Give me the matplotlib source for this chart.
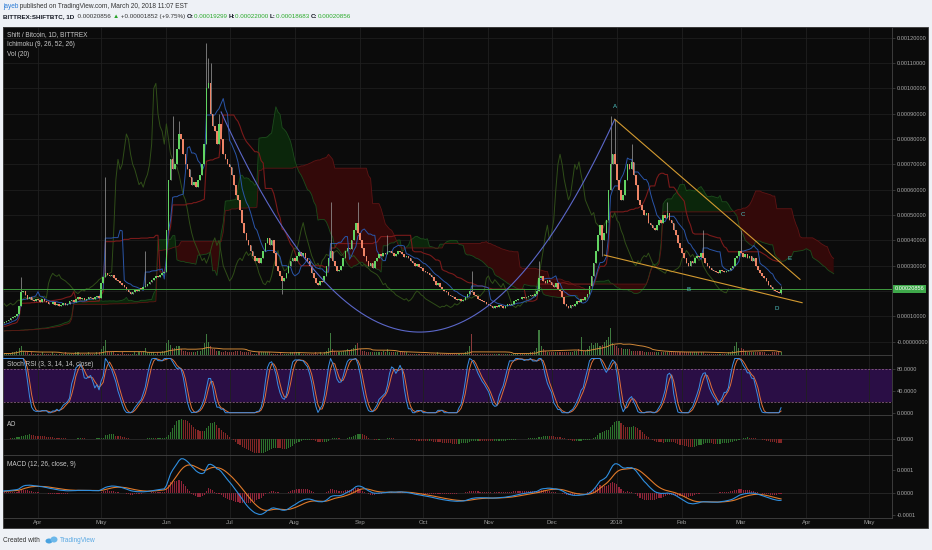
import numpy as np
import pandas as pd
import matplotlib
matplotlib.use("Agg")
import matplotlib.pyplot as plt
import matplotlib.dates as mdates
import matplotlib.transforms as mtransforms
from matplotlib.patches import Rectangle, Ellipse

plt.rcParams['font.family'] = ['Liberation Sans', 'DejaVu Sans']

# daily closes in 1e-6 BTC
pre_closes = [42, 40, 41, 44, 43, 45, 47, 44, 46, 48, 47, 45, 48, 50, 49,
              52, 50, 54, 53, 55, 58, 56, 60, 62, 60, 64, 66, 70, 72, 75]  # 2017-02-14 .. 03-15, only feeds the cloud
closes_by_month = {
    '2017-03': [78, 80, 85, 92, 97, 100, 108, 140, 195, 200, 185, 170, 175, 165, 160, 168],
    '2017-04': [165, 158, 170, 160, 155, 150, 148, 155, 145, 150, 140, 146, 152, 145, 150,
                160, 165, 158, 170, 175, 168, 172, 165, 170, 178, 172, 168, 175, 180, 172],
    '2017-05': [230, 255, 270, 262, 258, 265, 250, 245, 240, 232, 225, 215, 205, 195, 190, 198,
                205, 200, 210, 208, 215, 220, 228, 235, 245, 250, 260, 255, 265, 270, 275],
    '2017-06': [440, 640, 720, 680, 700, 760, 820, 800, 740, 700, 680, 650, 620, 630, 610,
                640, 660, 700, 780, 1000, 1020, 900, 850, 830, 780, 860, 800, 740, 720, 700],
    '2017-07': [690, 660, 620, 580, 560, 520, 470, 430, 400, 380, 360, 340, 320, 330, 310, 330,
                360, 390, 410, 380, 400, 350, 300, 280, 260, 240, 250, 270, 300, 320, 330],
    '2017-08': [320, 340, 355, 340, 350, 330, 320, 300, 270, 250, 230, 225, 240, 235, 260, 300,
                330, 360, 320, 300, 280, 285, 300, 330, 360, 370, 365, 400, 440, 470, 430],
    '2017-09': [400, 370, 340, 320, 300, 310, 290, 320, 330, 345, 340, 350, 345, 355, 360,
                350, 340, 345, 360, 355, 345, 335, 340, 330, 320, 310, 300, 305, 295, 290],
    '2017-10': [280, 275, 270, 265, 255, 240, 225, 230, 215, 210, 200, 195, 185, 180, 175, 170,
                165, 170, 160, 165, 175, 190, 200, 195, 185, 180, 170, 165, 160, 155, 150],
    '2017-11': [145, 140, 135, 140, 138, 145, 140, 135, 140, 150, 145, 150, 160, 165, 170,
                168, 175, 172, 178, 180, 185, 180, 190, 200, 250, 260, 240, 230, 245, 235],
    '2017-12': [225, 215, 230, 210, 200, 175, 150, 140, 135, 145, 140, 150, 160, 155, 170, 165,
                175, 190, 220, 260, 310, 360, 420, 460, 400, 430, 480, 600, 700, 740, 700],
    '2018-01': [640, 600, 560, 580, 640, 700, 680, 710, 660, 620, 560, 540, 520, 500, 510, 470,
                460, 450, 440, 460, 480, 470, 500, 490, 510, 480, 470, 440, 420, 390, 370],
    '2018-02': [350, 330, 310, 300, 320, 310, 330, 340, 335, 350, 330, 310, 300, 290,
                285, 280, 275, 270, 285, 280, 275, 280, 285, 290, 300, 330, 340, 360],
    '2018-03': [350, 335, 345, 330, 340, 320, 330, 300, 285, 270, 260, 250, 240, 225, 215,
                205, 200, 195, 193, 208.56],
}
# long wicks (1e-6 BTC)
spike_highs = {'2017-03-24': 255, '2017-05-03': 650, '2017-05-22': 360, '2017-06-04': 890,
               '2017-06-07': 870, '2017-06-20': 1180, '2017-06-21': 1120, '2017-06-22': 1100,
               '2017-06-26': 900, '2017-08-18': 550, '2017-08-31': 550, '2017-09-14': 420,
               '2017-10-24': 280, '2017-11-25': 320, '2017-12-29': 890, '2017-12-31': 880,
               '2018-01-08': 780, '2018-01-25': 550, '2018-02-11': 440, '2018-03-01': 440,
               '2018-03-20': 220}
spike_lows = {'2017-07-26': 190, '2017-12-25': 340, '2018-03-20': 186.83}

volume_by_month = {
    '2017-03': [1, 1, 1, 1, 2, 2, 3, 5, 6, 3, 2, 2, 1, 2, 1, 1],
    '2017-04': [1, 1, 2, 1, 1, 1, 1, 2, 1, 1, 1, 1, 1, 2, 1, 1, 1, 1, 2, 2, 1, 1, 1, 1, 2, 1, 1, 1, 2, 2],
    '2017-05': [4, 6, 10, 3, 2, 2, 2, 1, 1, 1, 2, 1, 1, 1, 1, 1, 2, 1, 2, 2, 3, 5, 2, 2, 2, 2, 1, 2, 2, 3, 3],
    '2017-06': [8, 10, 7, 5, 5, 6, 6, 4, 3, 3, 2, 2, 2, 2, 2, 3, 3, 4, 8, 14, 9, 6, 4, 4, 3, 3, 2, 2, 3, 2],
    '2017-07': [2, 2, 2, 3, 3, 3, 2, 2, 2, 2, 2, 1, 1, 1, 2, 2, 2, 2, 2, 2, 1, 1, 1, 1, 2, 1, 1, 1, 1, 2, 2],
    '2017-08': [2, 2, 2, 1, 1, 1, 1, 1, 1, 1, 2, 1, 2, 1, 2, 3, 5, 15, 4, 3, 2, 2, 2, 3, 3, 4, 3, 4, 5, 7, 8],
    '2017-09': [4, 3, 3, 2, 2, 2, 2, 2, 2, 2, 2, 3, 2, 4, 2, 2, 2, 2, 2, 2, 2, 2, 2, 1, 1, 1, 1, 1, 1, 1],
    '2017-10': [1, 1, 1, 1, 1, 1, 1, 2, 1, 1, 1, 1, 1, 1, 1, 1, 1, 1, 1, 1, 2, 3, 6, 14, 1, 1, 1, 1, 1, 1, 1],
    '2017-11': [1, 1, 1, 1, 1, 1, 1, 1, 1, 1, 1, 1, 1, 1, 1, 1, 1, 1, 1, 1, 2, 2, 3, 5, 17, 6, 4, 3, 2, 2],
    '2017-12': [2, 2, 2, 2, 2, 2, 2, 2, 2, 2, 2, 3, 3, 4, 12, 3, 3, 4, 6, 8, 7, 8, 8, 6, 7, 9, 10, 12, 18, 8, 7],
    '2018-01': [6, 5, 5, 4, 4, 4, 4, 3, 3, 3, 3, 3, 3, 2, 2, 2, 2, 2, 2, 2, 2, 2, 2, 2, 2, 2, 2, 2, 2, 2, 2],
    '2018-02': [2, 2, 2, 2, 2, 2, 2, 2, 2, 2, 2, 1, 1, 1, 1, 1, 1, 1, 1, 1, 1, 1, 2, 2, 3, 6, 9, 5],
    '2018-03': [5, 4, 3, 2, 2, 2, 2, 2, 2, 2, 2, 2, 1, 1, 1, 2, 2, 2, 2, 2],
}

price_ticks = [0.0, 0.0001, 0.0003, 0.0004, 0.0005, 0.0006, 0.0007, 0.0008, 0.0009, 0.0010, 0.0011, 0.0012]
price_labels = ['-0.00000000', '0.00010000', '0.00030000', '0.00040000', '0.00050000', '0.00060000',
                '0.00070000', '0.00080000', '0.00090000', '0.00100000', '0.00110000', '0.00120000']
month_dates = ['2017-04-01', '2017-05-01', '2017-06-01', '2017-07-01', '2017-08-01', '2017-09-01',
               '2017-10-01', '2017-11-01', '2017-12-01', '2018-01-01', '2018-02-01', '2018-03-01',
               '2018-04-01', '2018-05-01']
month_labels = ['Apr', 'May', 'Jun', 'Jul', 'Aug', 'Sep', 'Oct', 'Nov', 'Dec', '2018', 'Feb', 'Mar', 'Apr', 'May']

# user drawings (1e-6 BTC)
arc_dates = ['2017-06-27', '2017-09-29', '2017-12-31']
arc_prices = [907, 38, 878]
wedge_upper_dates, wedge_upper_prices = ['2017-12-31', '2018-03-29'], [878, 246]
wedge_lower_dates, wedge_lower_prices = ['2017-12-26', '2018-03-30'], [342, 154]
wave_labels = ['A', 'B', 'C', 'D', 'E']
wave_dates = ['2017-12-31', '2018-02-04', '2018-03-02', '2018-03-18', '2018-03-24']
wave_prices = [927, 208, 504, 133, 330]
last_price = 0.00020856

# ---- build OHLC
main_closes = sum(closes_by_month.values(), [])
n_pre = len(pre_closes)
close = np.array(pre_closes + main_closes, dtype=float) * 1e-6
dates = pd.date_range('2017-02-14', periods=len(close), freq='D')
xs = mdates.date2num(dates)
opens = np.r_[close[0], close[:-1]]
opens[-1] = 0.00019299
high = np.maximum(opens, close)
low = np.minimum(opens, close)
for d, v in spike_highs.items():
    high[dates.get_loc(pd.Timestamp(d))] = v * 1e-6
for d, v in spike_lows.items():
    low[dates.get_loc(pd.Timestamp(d))] = v * 1e-6
volume = np.array(sum(volume_by_month.values(), []), dtype=float)
xs_main = xs[n_pre:]
up = close >= opens

# ---- indicators
hs, ls, cs = pd.Series(high), pd.Series(low), pd.Series(close)


def midline(p):
    return (hs.rolling(p, min_periods=1).max() + ls.rolling(p, min_periods=1).min()) / 2


conv, base = midline(9), midline(26)
lead_a = ((conv + base) / 2).values
lead_b = midline(52).values

delta = cs.diff()
gain = delta.clip(lower=0).ewm(alpha=1 / 14, adjust=False).mean()
loss = (-delta.clip(upper=0)).ewm(alpha=1 / 14, adjust=False).mean()
rsi = 100 - 100 / (1 + gain / loss)
rlo, rhi = rsi.rolling(14).min(), rsi.rolling(14).max()
stoch = 100 * (rsi - rlo) / (rhi - rlo)
k_line = stoch.rolling(3).mean()
d_line = k_line.rolling(3).mean()

median = (hs + ls) / 2
ao = (median.rolling(5).mean() - median.rolling(34).mean()).values
ao_up = np.r_[True, ao[1:] >= ao[:-1]]

macd = cs.ewm(span=12, adjust=False).mean() - cs.ewm(span=26, adjust=False).mean()
signal = macd.ewm(span=9, adjust=False).mean()
hist = macd - signal

vol_ma = pd.Series(volume).rolling(20, min_periods=1).mean()

# ---- figure
W, H = 932, 550
fig = plt.figure(figsize=(W / 100, H / 100), dpi=100)
fig.patch.set_facecolor('#eef1f6')


def pane(x0, y0, x1, y1):
    return fig.add_axes([x0 / W, 1 - y1 / H, (x1 - x0) / W, (y1 - y0) / H])


bg = pane(0, 0, W, H)
bg.set_xlim(0, W)
bg.set_ylim(H, 0)
bg.axis('off')
bg.add_patch(Rectangle((3, 27), 925, 501, fc='#0b0b0b', ec='#3a3a3a', lw=0.6))

x_left = mdates.date2num(pd.Timestamp('2017-03-15')) + 0.38
x_right = x_left + 889 / 2.105
month_x = mdates.date2num(pd.to_datetime(month_dates))


def style(a):
    a.set_facecolor('#0b0b0b')
    for s in a.spines.values():
        s.set_color('#444444')
        s.set_linewidth(0.6)
    a.yaxis.tick_right()
    a.tick_params(axis='y', color='#555555', labelcolor='#a8a8a8', labelsize=4.1, length=2, width=0.4, pad=1.2)
    a.tick_params(axis='x', length=0, labelbottom=False)
    a.set_xlim(x_left, x_right)
    a.set_xticks(month_x)
    a.grid(True, axis='x', color='#202020', lw=0.6)
    a.set_axisbelow(True)


ax = pane(3, 27, 892, 355)
ax_st = pane(3, 355, 892, 415)
ax_ao = pane(3, 415, 892, 455)
ax_md = pane(3, 455, 892, 518)

# volume overlay sits under the price pane
axv = ax.twinx()
for a in (ax, ax_st, ax_ao, ax_md):
    style(a)

# main pane
ax.set_ylim(-0.0000525, 0.0012424)
ax.set_yticks(price_ticks)
ax.set_yticklabels(price_labels)
for v in np.arange(0, 0.00125, 0.0001):
    ax.axhline(v, color='#1e1e1e', lw=0.6, zorder=0)

ax.fill_between(xs + 25, lead_a, lead_b, where=lead_a >= lead_b, interpolate=True, color='#0b260b', lw=0, zorder=1)
ax.fill_between(xs + 25, lead_a, lead_b, where=lead_a < lead_b, interpolate=True, color='#330909', lw=0, zorder=1)
ax.plot(xs + 25, lead_a, color='#1c4d1c', lw=0.6, zorder=2)
ax.plot(xs + 25, lead_b, color='#5e1414', lw=0.6, zorder=2)
ax.plot(xs - 25, close, color='#2f4d18', lw=0.7, zorder=2)
ax.plot(xs, base.values, color='#7a1a1a', lw=0.8, zorder=2)
ax.plot(xs, conv.values, color='#2a55a8', lw=0.7, zorder=2)

ax.vlines(xs, low, high, color='#a0a0a0', lw=0.5, zorder=3)
body = np.maximum(np.abs(close - opens), 2.5e-6)
ax.bar(xs, body, bottom=np.minimum(opens, close), width=0.75,
       color=np.where(up, '#62d462', '#ee8466'), lw=0, zorder=4)

ax.axhline(last_price, color='#3f9a3f', lw=0.7, zorder=5)

ad = mdates.date2num(pd.to_datetime(arc_dates))
coef = np.polyfit(ad, np.array(arc_prices) * 1e-6, 2)
t = np.linspace(ad[0], ad[-1], 300)
ax.plot(t, np.polyval(coef, t), color='#5b67c9', lw=0.8, zorder=6)
ax.plot(mdates.date2num(pd.to_datetime(wedge_upper_dates)), np.array(wedge_upper_prices) * 1e-6,
        color='#d39a30', lw=0.8, zorder=6)
ax.plot(mdates.date2num(pd.to_datetime(wedge_lower_dates)), np.array(wedge_lower_prices) * 1e-6,
        color='#d39a30', lw=0.8, zorder=6)
for lab, d, p in zip(wave_labels, wave_dates, wave_prices):
    ax.text(mdates.date2num(pd.Timestamp(d)), p * 1e-6, lab, color='#4fc4c4', fontsize=4.4,
            ha='center', va='center', zorder=7)

blend = mtransforms.blended_transform_factory(ax.transAxes, ax.transData)
ax.text(1.003, last_price, '0.00020856', transform=blend, color='white', fontsize=4.1, va='center', ha='left',
        clip_on=False, zorder=8, bbox=dict(boxstyle='square,pad=0.3', fc='#3ea84a', ec='none'))

axv.bar(xs_main, volume, width=0.5, color=np.where(up[n_pre:], '#3f7a3f', '#8a3a3a'), lw=0)
axv.plot(xs_main, vol_ma, color='#d08838', lw=0.7)
axv.set_ylim(0, 220)
axv.set_xlim(x_left, x_right)
axv.axis('off')

# stoch rsi
ax_st.set_ylim(-4.2, 106.4)
ax_st.axhspan(20, 80, color='#2a0e45', lw=0, zorder=0)
for v in (20, 80):
    ax_st.axhline(v, color='#9a6a8e', lw=0.5, ls=(0, (3, 2)), zorder=1)
ax_st.plot(xs, k_line, color='#3a8ee6', lw=0.7, zorder=3)
ax_st.plot(xs, d_line, color='#e0703a', lw=0.7, zorder=2)
ax_st.set_yticks([0, 40, 80])
ax_st.set_yticklabels(['0.0000', '40.0000', '80.0000'])

# awesome oscillator
vis = ao[n_pre:]
top = max(np.nanmax(vis) * 24 / 21, -np.nanmin(vis) * 16 / 14 * 1.5)
ax_ao.set_ylim(-top * 16 / 24, top)
ax_ao.axhline(0, color='#2a2a2a', lw=0.6, zorder=0)
ax_ao.bar(xs, ao, width=0.55, color=np.where(ao_up, '#2d722d', '#822626'), lw=0, zorder=2)
ax_ao.set_yticks([0])
ax_ao.set_yticklabels(['0.0000'])

# macd
ax_md.set_ylim(-0.000113, 0.000167)
ax_md.axhline(0, color='#2a2a2a', lw=0.6, zorder=0)
ax_md.bar(xs, hist, width=0.55, color='#8f2439', lw=0, zorder=1)
ax_md.plot(xs, macd, color='#2f8fe0', lw=0.8, zorder=3)
ax_md.plot(xs, signal, color='#e07a2a', lw=0.8, zorder=2)
ax_md.set_yticks([-0.0001, 0, 0.0001])
ax_md.set_yticklabels(['-0.0001', '0.0000', '0.0001'])
ax_md.set_xticklabels(month_labels)
ax_md.tick_params(axis='x', labelbottom=True, labelsize=4.3, labelcolor='#9a9a9a', pad=1.5)

# ---- overlay texts
ov = pane(0, 0, W, H)
ov.set_xlim(0, W)
ov.set_ylim(H, 0)
ov.axis('off')


def chain(x, y, parts, size):
    prev = None
    for s, color, weight in parts:
        if prev is None:
            prev = ov.text(x, y, s, color=color, fontsize=size, fontweight=weight, va='center', ha='left')
        else:
            prev = ov.annotate(s, xy=(1, 0.5), xycoords=prev, color=color, fontsize=size,
                               fontweight=weight, va='center', ha='left')


chain(3, 6.5, [('jayeb', '#2a7bd6', 'normal'),
               (' published on TradingView.com, March 20, 2018 11:07 EST', '#333333', 'normal')], 4.7)
chain(3, 16.8, [('BITTREX:SHIFTBTC, 1D', '#131722', 'bold'),
                ('  0.00020856 ', '#333333', 'normal'),
                ('▲', '#27a327', 'normal'),
                (' +0.00001852 (+9.75%) ', '#333333', 'normal'),
                ('O:', '#131722', 'bold'), ('0.00019299 ', '#2aaa2a', 'normal'),
                ('H:', '#131722', 'bold'), ('0.00022000 ', '#2aaa2a', 'normal'),
                ('L:', '#131722', 'bold'), ('0.00018683 ', '#2aaa2a', 'normal'),
                ('C:', '#131722', 'bold'), ('0.00020856', '#2aaa2a', 'normal')], 4.5)

legend_items = [('Shift / Bitcoin, 1D, BITTREX', 35), ('Ichimoku (9, 26, 52, 26)', 45), ('Vol (20)', 54.5),
                ('Stoch RSI (3, 3, 14, 14, close)', 365), ('AO', 425), ('MACD (12, 26, close, 9)', 465)]
for s, y in legend_items:
    ov.text(7, y, s, color='#c8c8c8', fontsize=4.7, va='center', ha='left')

ov.text(3, 540, 'Created with', color='#333333', fontsize=4.7, va='center', ha='left')
ov.add_patch(Ellipse((49, 541), 7, 5, fc='#4aa3e0', ec='none'))
ov.add_patch(Ellipse((54, 539.5), 7, 6, fc='#6cb8ea', ec='none'))
ov.text(60, 540, 'TradingView', color='#5aa9e3', fontsize=4.7, va='center', ha='left')

fig.savefig('out.png', dpi=100, facecolor=fig.get_facecolor())
